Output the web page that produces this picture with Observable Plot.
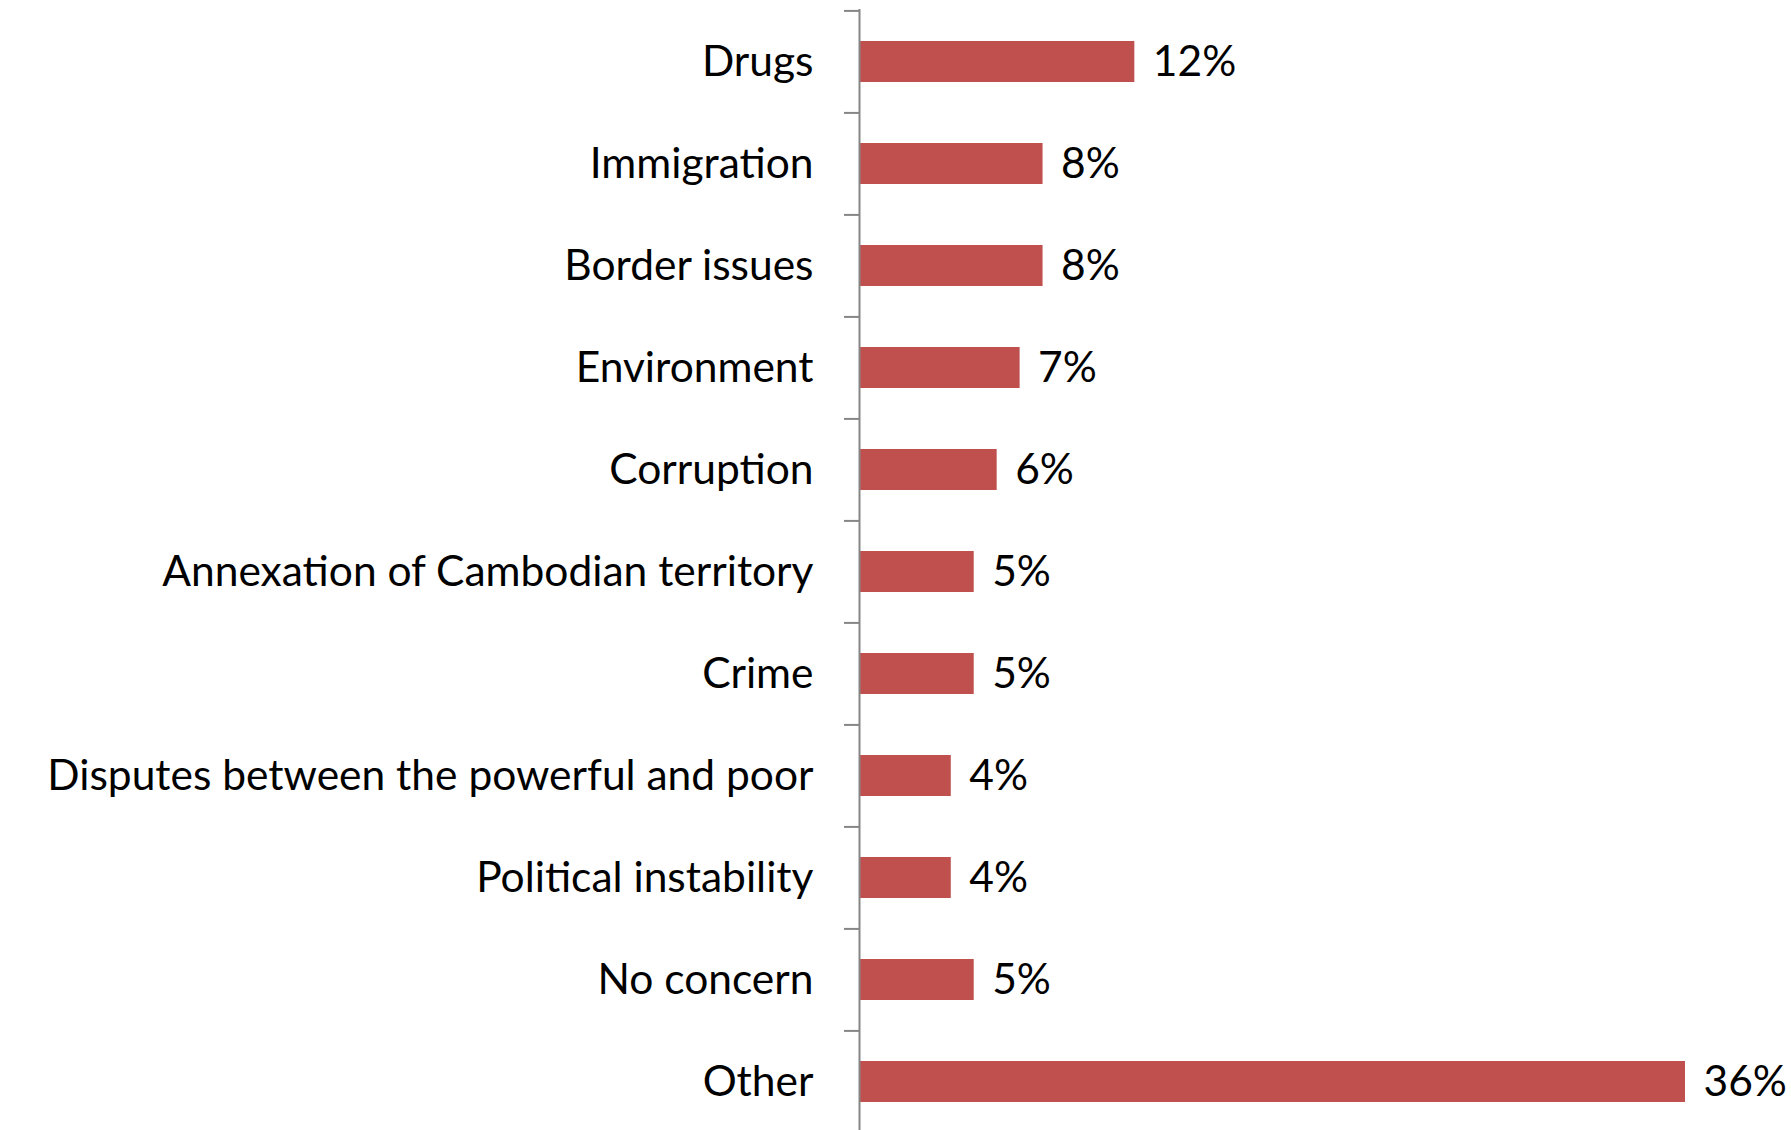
<!DOCTYPE html>
<html>
<head>
<meta charset="utf-8">
<script src="https://cdn.jsdelivr.net/npm/d3@7"></script>
<script src="https://cdn.jsdelivr.net/npm/@observablehq/plot@0.6"></script>
<style>
  html, body { margin: 0; padding: 0; background: #fff; }
  #chart { width: 1791px; height: 1130px; overflow: hidden; }
</style>
</head>
<body>
<div id="chart"></div>
<script>
const categories = [
  "Drugs",
  "Immigration",
  "Border issues",
  "Environment",
  "Corruption",
  "Annexation of Cambodian territory",
  "Crime",
  "Disputes between the powerful and poor",
  "Political instability",
  "No concern",
  "Other"
];
const values = [12, 8, 8, 7, 6, 5, 5, 4, 4, 5, 36];

const data = categories.map((c, i) => ({category: c, value: values[i]}));

const W = 1791, H = 1130;
const mT = 9, mB = -3, mL = 859, mR = 106;
const step = (H - mT - mB) / categories.length;
const font = "Lato, 'Open Sans', sans-serif";
const axisColor = "#868686";

const chart = Plot.plot({
  width: W,
  height: H,
  marginTop: mT,
  marginBottom: mB,
  marginLeft: mL,
  marginRight: mR,
  style: {fontFamily: font, background: "#fff", overflow: "visible"},
  x: {domain: [0, 36], axis: null},
  y: {domain: categories, paddingInner: 0.6, paddingOuter: 0.3, label: null},
  marks: [
    Plot.barX(data, {y: "category", x: "value", fill: "#C0504D"}),
    // boundary ticks between categories
    Plot.axisY({tickSize: 15, tickFormat: () => "", dy: -step / 2, stroke: axisColor, strokeWidth: 2}),
    // category labels
    Plot.axisY({tickSize: 0, tickPadding: 46, fontSize: 42.5, fill: "#000", label: null}),
    Plot.ruleX([0], {stroke: axisColor, strokeWidth: 2}),
    Plot.text(data, {
      y: "category",
      x: "value",
      text: d => d.value + "%",
      textAnchor: "start",
      dx: 18,
      fontSize: 42.5,
      fill: "#000"
    })
  ]
});
document.getElementById("chart").appendChild(chart);
</script>
</body>
</html>
